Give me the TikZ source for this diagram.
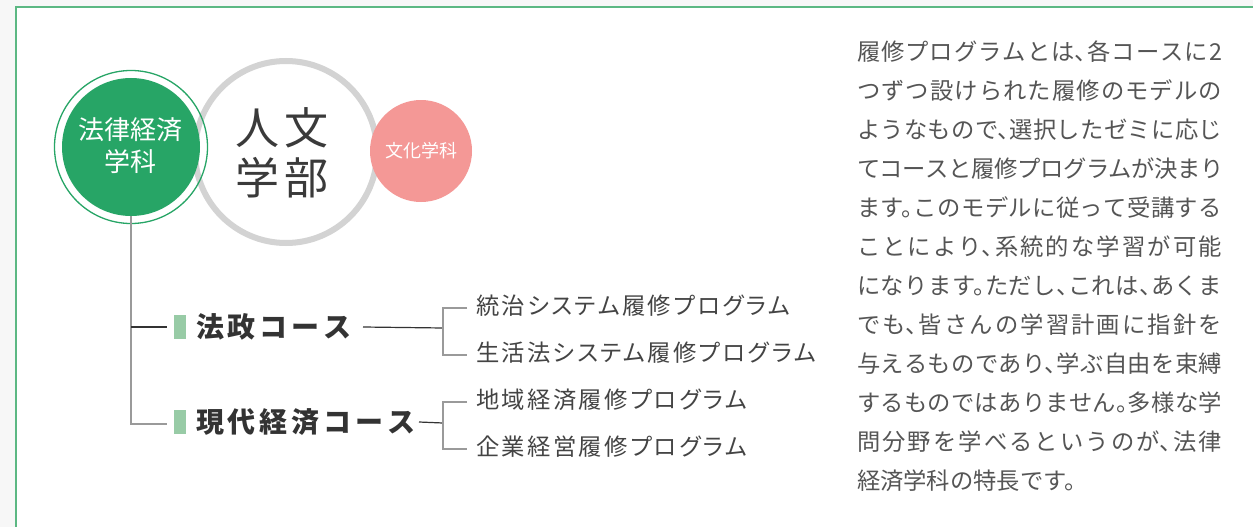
\documentclass[tikz,border=0pt]{standalone}
\usepackage{fontspec}
\newfontfamily\jp{Noto Sans CJK JP}
\newfontfamily\jpp[RawFeature=+halt]{Noto Sans CJK JP}
\newfontfamily\jpprog[RawFeature=+palt, LetterSpace=10.5]{Noto Sans CJK JP}
\definecolor{bgout}{HTML}{F7F7F7}
\definecolor{framegreen}{HTML}{5CB883}
\definecolor{lawgreen}{HTML}{27A566}
\definecolor{ringgray}{HTML}{D3D3D3}
\definecolor{culturepink}{HTML}{F49896}
\definecolor{bargreen}{HTML}{98CBA6}
\definecolor{treegray}{HTML}{9A9A9A}
\definecolor{treedark}{HTML}{333333}
\definecolor{titlegray}{HTML}{3A3A3A}
\definecolor{proggray}{HTML}{444444}
\definecolor{paragray}{HTML}{555555}
\begin{document}
\begin{tikzpicture}[x=1pt,y=-1pt,
  every node/.style={inner sep=0pt, outer sep=0pt},
  bar/.style={fill=bargreen, minimum width=12pt, minimum height=24pt},
  course/.style={anchor=west, text=treedark, font=\jp\bfseries\fontsize{28}{32}\selectfont},
  prog/.style={anchor=west, text=proggray, font=\jpprog\fontsize{23.3}{28}\selectfont},
  graylink/.style={draw=treegray, line width=1.2pt},
  darklink/.style={draw=treedark, line width=1.2pt}]
\useasboundingbox (0,0) rectangle (1253,527);
\fill[bgout] (0,0) rectangle (1253,527);
\fill[white] (16,7) rectangle (1253,527);
\draw[framegreen, line width=2pt] (16,527) -- (16,7) -- (1253,7);

% circles
\node[circle, draw=ringgray, line width=6pt, minimum size=182pt] (dept) at (286,152) {};
\node[circle, draw=lawgreen, line width=1.3pt, minimum size=153pt] (lawring) at (131,147) {};
\node[circle, fill=lawgreen, minimum size=138pt] (law) at (131,147) {};
\node[text=white, align=center, font=\jp\fontsize{26}{32}\selectfont] (lawtext) at (130,146) {法律経済\\学科};
\node[text=titlegray, align=center, font=\jp\fontsize{44}{50}\selectfont] (depttext) at (282,153) {人\kern6pt文\\学\kern6pt部};
\node[circle, fill=culturepink, minimum size=102pt, text=white, font=\jp\fontsize{18}{20}\selectfont] (culture) at (421,151) {文化学科};

% tree
\coordinate (j1) at (131,327);
\coordinate (j2) at (131,424);
\coordinate (e1) at (167,327);
\coordinate (e2) at (167,424);
\draw[graylink] (law.south) -- (j2) -- (e2);
\draw[darklink] (j1) -- (e1);

\node[bar] (bar1) at (180,327) {};
\node[bar] (bar2) at (180,422) {};
\node[course] (hosei) at (196,327) {法\kern4pt政\kern4ptコ\kern4ptー\kern4ptス};
\node[course] (gendai) at (196,422) {現\kern4pt代\kern4pt経\kern4pt済\kern4ptコ\kern4ptー\kern4ptス};

\coordinate (b1) at (443,328);
\coordinate (b2) at (443,423);
\draw[darklink] ([xshift=11pt]hosei.east) -- (b1);
\draw[darklink] ([xshift=3pt]gendai.east) -- (b2);

\node[prog] (p1) at (476,306) {統治システム履修プログラム};
\node[prog] (p2) at (476,353) {生活法システム履修プログラム};
\node[prog] (p3) at (476,400) {地域経済履修プログラム};
\node[prog] (p4) at (476,447) {企業経営履修プログラム};

\draw[graylink] ([xshift=-9pt,yshift=-2pt]p1.west) -| (b1) |- ([xshift=-9pt,yshift=-2pt]p2.west);
\draw[graylink] ([xshift=-9pt,yshift=-2pt]p3.west) -| (b2) |- ([xshift=-9pt,yshift=-2pt]p4.west);

% paragraph
\node[anchor=north west, text width=365pt, align=justify, text=paragray,
  font=\jpp\fontsize{23.3}{39}\selectfont] (para) at (857,41) {%
\XeTeXlinebreaklocale "ja"\XeTeXlinebreakskip=0pt plus 3pt minus 0.4pt\XeTeXlinebreakpenalty=10000
履修プログラムとは、各コースに2\linebreak
つずつ設けられた履修のモデルの\linebreak
ようなもので、選択したゼミに応じ\linebreak
てコースと履修プログラムが決まり\linebreak
ます。このモデルに従って受講する\linebreak
ことにより、系統的な学習が可能\linebreak
になります。ただし、これは、あくま\linebreak
でも、皆さんの学習計画に指針を\linebreak
与えるものであり、学ぶ自由を束縛\linebreak
するものではありません。多様な学\linebreak
問分野を学べるというのが、法律\linebreak
経済学科の特長です。};
\end{tikzpicture}
\end{document}
